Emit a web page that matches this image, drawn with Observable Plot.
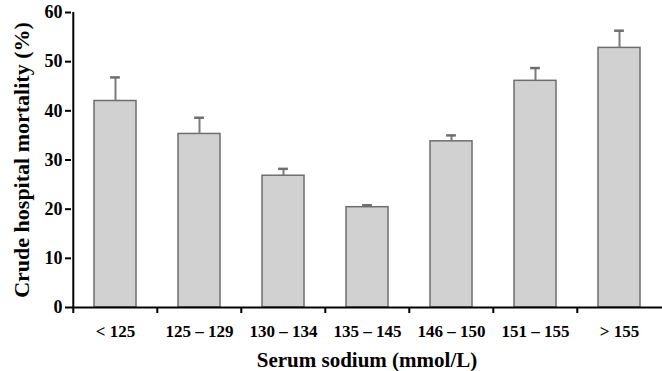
<!DOCTYPE html>
<html>
<head>
<meta charset="utf-8">
<script src="https://cdn.jsdelivr.net/npm/d3@7"></script>
<script src="https://cdn.jsdelivr.net/npm/@observablehq/plot@0.6"></script>
<style>
  html, body { margin: 0; padding: 0; background: #fff; }
</style>
</head>
<body>
<div id="chart"></div>
<script>
const categories = ["< 125", "125 – 129", "130 – 134", "135 – 145", "146 – 150", "151 – 155", "> 155"];
const mortality = [42.0, 35.3, 26.8, 20.4, 33.8, 46.1, 52.8];
const upperError = [46.8, 38.6, 28.2, 20.8, 35.0, 48.7, 56.3];
const yTicks = [0, 10, 20, 30, 40, 50, 60];
const xTitle = "Serum sodium (mmol/L)";
const yTitle = "Crude hospital mortality (%)";

const data = categories.map((c, i) => ({cat: c, value: mortality[i], upper: upperError[i]}));

const W = 662, H = 371, mL = 71, mR = 0, mT = 12, mB = 64;
const step = (W - mL - mR) / categories.length;
const capInset = (step * 0.5 - 10) / 2;

const chart = Plot.plot({
  width: W,
  height: H,
  marginLeft: mL,
  marginRight: mR,
  marginTop: mT,
  marginBottom: mB,
  style: {fontFamily: "'Liberation Serif', 'Times New Roman', serif", background: "#fff", color: "#000"},
  x: {domain: categories, paddingInner: 0.5, paddingOuter: 0.25, axis: null},
  y: {domain: [0, 60], axis: null},
  marks: [
    Plot.barY(data, {x: "cat", y: "value", fill: "#d1d1d1", stroke: "#6e6e6e", strokeWidth: 1.5}),
    Plot.ruleX(data, {x: "cat", y1: "value", y2: "upper", stroke: "#7a7a7a", strokeWidth: 2}),
    Plot.tickY(data, {x: "cat", y: "upper", stroke: "#6e6e6e", strokeWidth: 2.5, insetLeft: capInset, insetRight: capInset}),
    // y axis line
    Plot.ruleX([categories[0]], {x: d => d, dx: -step / 2, y1: 0, y2: 60, stroke: "#000", strokeWidth: 2}),
    // x axis line
    Plot.ruleY([0], {stroke: "#000", strokeWidth: 2}),
    // boundary ticks on x axis
    Plot.ruleX(categories, {x: d => d, dx: -step / 2, y1: 0, y2: 0, insetBottom: -6, stroke: "#000", strokeWidth: 2}),
    Plot.axisY(yTicks, {tickSize: 6, tickPadding: 3, strokeWidth: 2, fontSize: 18, fontWeight: "bold", label: null}),
    Plot.axisX({tickSize: 0, tickPadding: 17, fontSize: 17, fontWeight: "bold", label: null}),
    Plot.text([xTitle], {frameAnchor: "bottom", dy: 59, fontSize: 21, fontWeight: "bold", lineAnchor: "bottom"}),
    Plot.text([yTitle], {frameAnchor: "left", textAnchor: "middle", dx: -50, rotate: -90, fontSize: 22, fontWeight: "bold"})
  ]
});
document.getElementById("chart").appendChild(chart);
</script>
</body>
</html>
